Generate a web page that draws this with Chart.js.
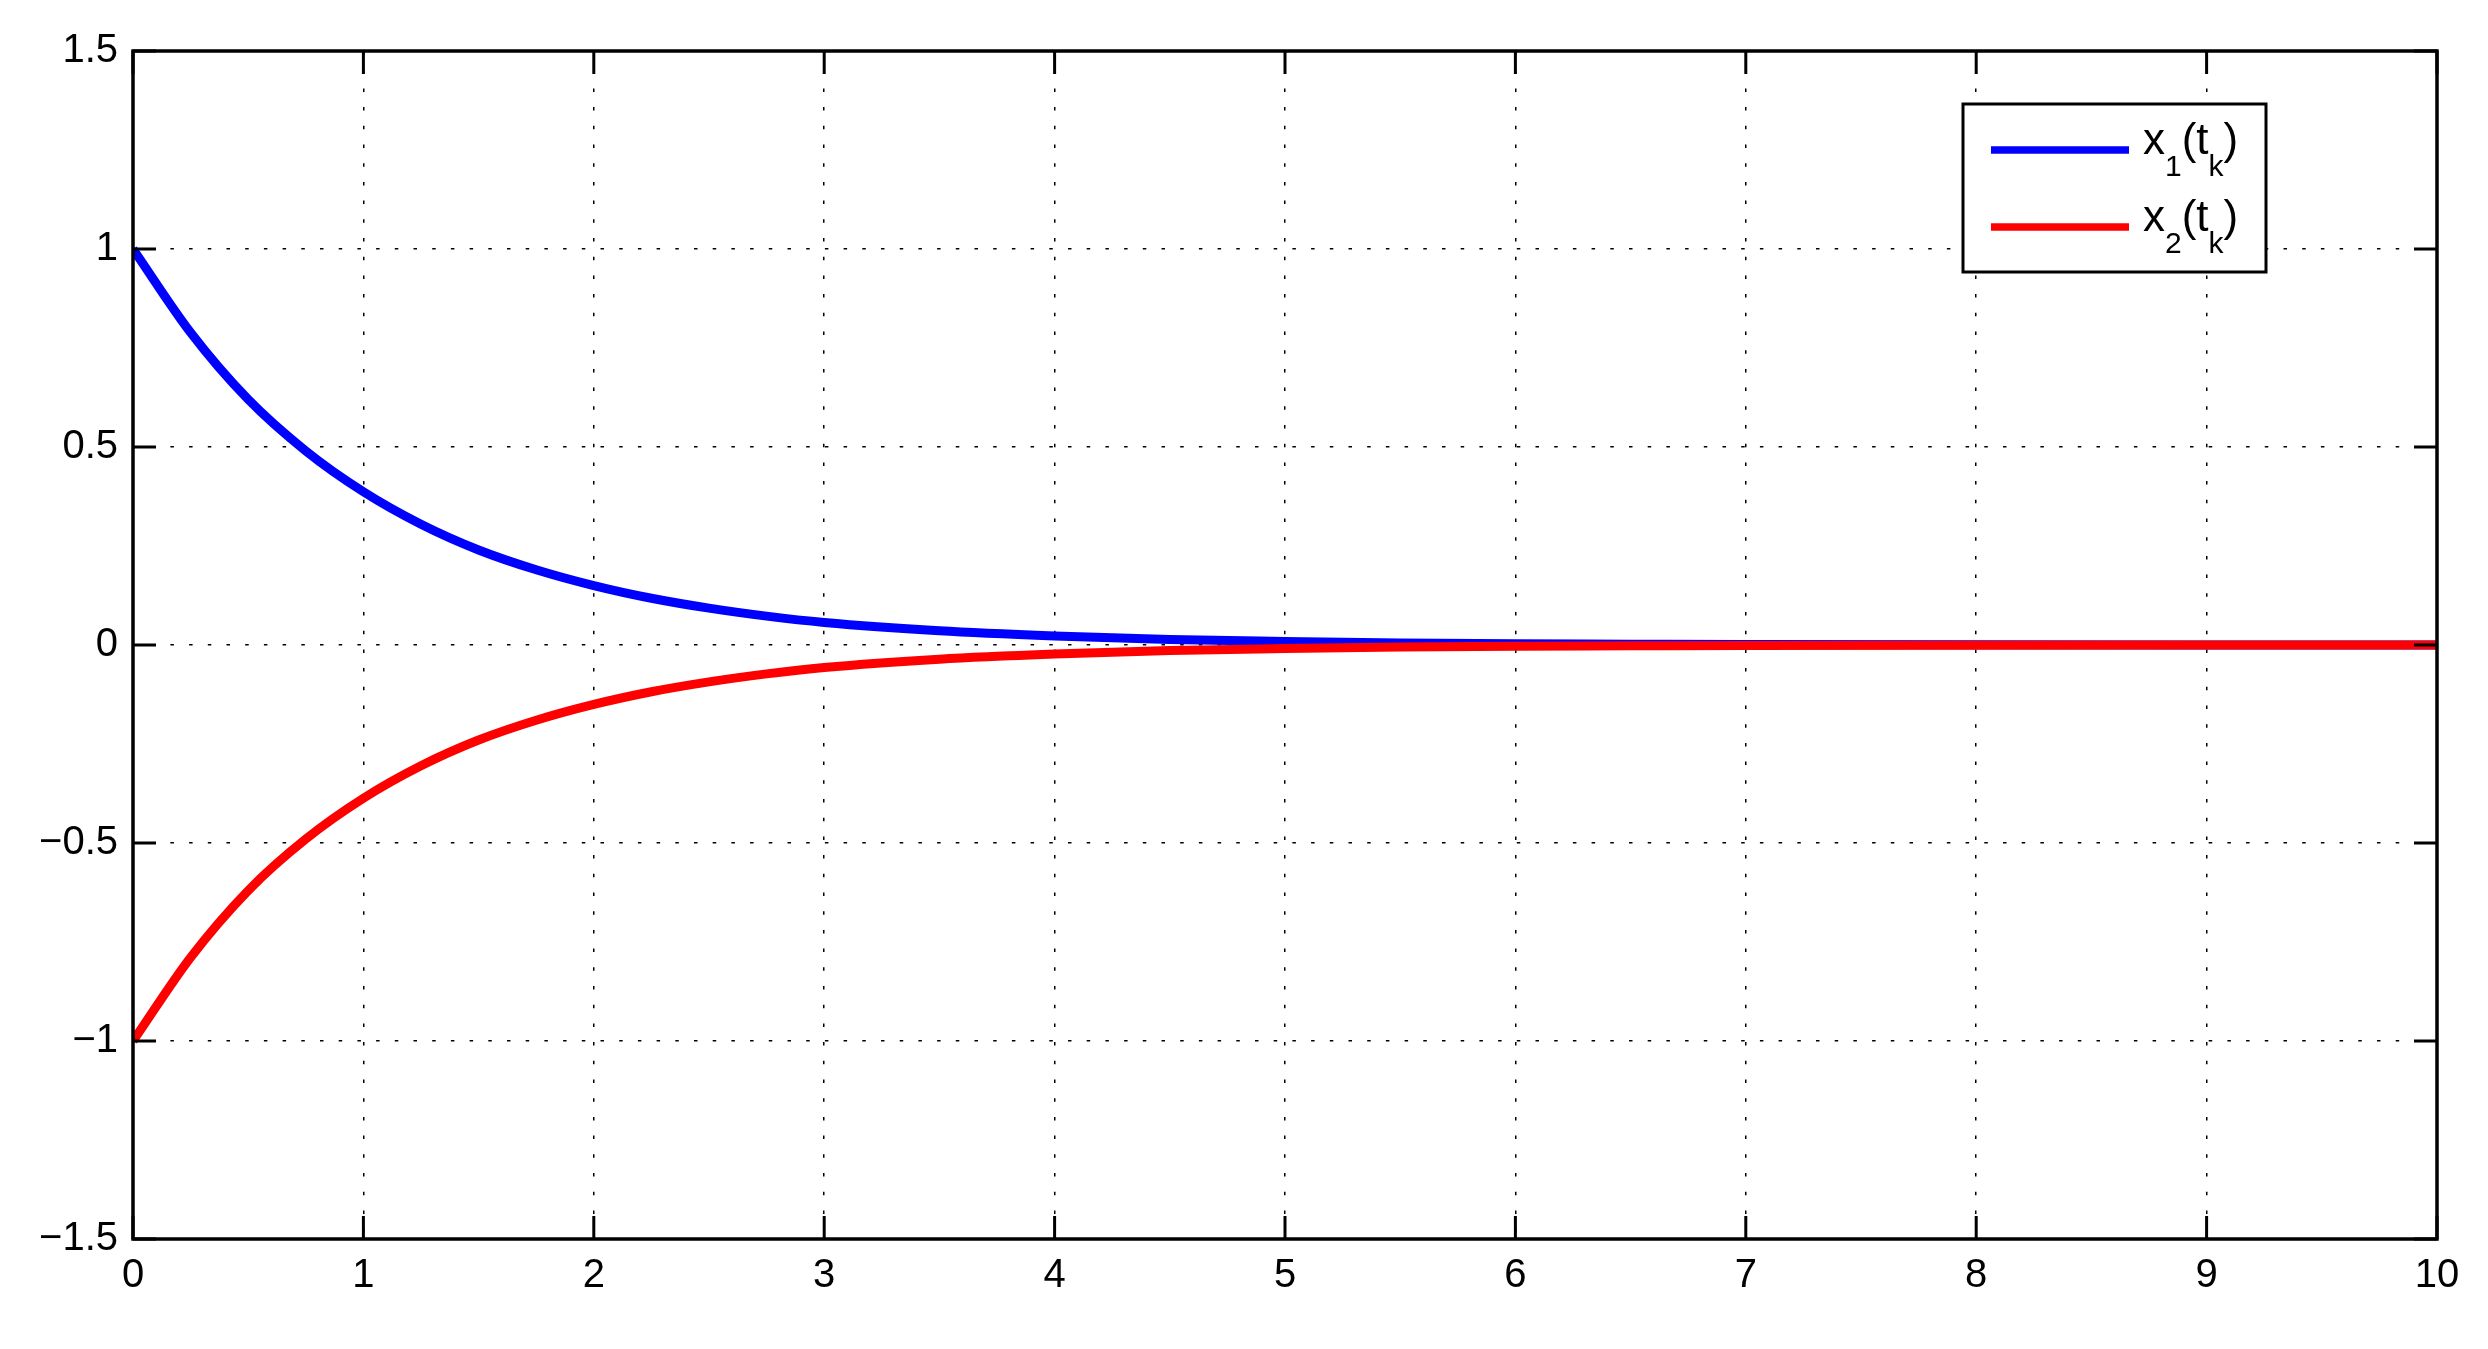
<!DOCTYPE html>
<html>
<head>
<meta charset="utf-8">
<style>
  html, body { margin: 0; padding: 0; background: #ffffff; }
  #wrap { width: 2488px; height: 1349px; }
</style>
<script src="https://cdn.jsdelivr.net/npm/chart.js@4/dist/chart.umd.min.js"></script>
</head>
<body>
<div id="wrap"><canvas id="c" width="2488" height="1349"></canvas></div>
<script>
// ---- data ----
const tValues  = [0, 0.25, 0.5, 0.75, 1, 1.25, 1.5, 1.75, 2, 2.25, 2.5, 2.75, 3, 3.5, 4, 4.5, 5, 5.5, 6, 6.5, 7, 8, 9, 10];
const x1Values = [1.000, 0.789, 0.620, 0.490, 0.387, 0.305, 0.240, 0.190, 0.150, 0.118, 0.093, 0.073, 0.057, 0.036, 0.023, 0.014, 0.009, 0.005, 0.003, 0.002, 0.001, 0.0005, 0.0002, 0.0001];
const x2Values = [-1.000, -0.789, -0.620, -0.490, -0.387, -0.305, -0.240, -0.190, -0.150, -0.118, -0.093, -0.073, -0.057, -0.036, -0.023, -0.014, -0.009, -0.005, -0.003, -0.002, -0.001, -0.0005, -0.0002, -0.0001];
const seriesLabels = ['x_1(t_k)', 'x_2(t_k)'];
const xTickValues = [0, 1, 2, 3, 4, 5, 6, 7, 8, 9, 10];
const xTickLabels = ['0', '1', '2', '3', '4', '5', '6', '7', '8', '9', '10'];
const yTickValues = [-1.5, -1, -0.5, 0, 0.5, 1, 1.5];
const yTickLabels = ['\u22121.5', '\u22121', '\u22120.5', '0', '0.5', '1', '1.5'];

const FONT = '"Liberation Sans", Arial, Helvetica, sans-serif';
const TICK_FONT_SIZE = 40;

function toPoints(xs, ys) { return xs.map((x, i) => ({ x: x, y: ys[i] })); }

// Box + inward tick marks on all four sides (MATLAB style)
const boxPlugin = {
  id: 'boxPlugin',
  afterDatasetsDraw(chart) {
    const ctx = chart.ctx;
    const a = chart.chartArea;
    const xs = chart.scales.x, ys = chart.scales.y;
    const tl = 23;
    ctx.save();
    ctx.strokeStyle = '#000';
    ctx.lineWidth = 3;
    ctx.setLineDash([]);
    ctx.beginPath();
    xTickValues.forEach(v => {
      const px = xs.getPixelForValue(v);
      ctx.moveTo(px, a.bottom); ctx.lineTo(px, a.bottom - tl);
      ctx.moveTo(px, a.top); ctx.lineTo(px, a.top + tl);
    });
    yTickValues.forEach(v => {
      const py = ys.getPixelForValue(v);
      ctx.moveTo(a.left, py); ctx.lineTo(a.left + tl, py);
      ctx.moveTo(a.right, py); ctx.lineTo(a.right - tl, py);
    });
    ctx.stroke();
    ctx.lineWidth = 3.5;
    ctx.strokeRect(a.left, a.top, a.right - a.left, a.bottom - a.top);
    ctx.restore();
  }
};

// Legend with subscripts
function drawRich(ctx, text, x, y, size, subSize, subDrop) {
  let cx = x;
  let i = 0;
  while (i < text.length) {
    const ch = text[i];
    if (ch === '_' && i + 1 < text.length) {
      ctx.font = subSize + 'px ' + FONT;
      ctx.fillText(text[i + 1], cx, y + subDrop);
      cx += ctx.measureText(text[i + 1]).width;
      i += 2;
    } else {
      ctx.font = size + 'px ' + FONT;
      ctx.fillText(ch, cx, y);
      cx += ctx.measureText(ch).width;
      i += 1;
    }
  }
}

const legendPlugin = {
  id: 'matLegend',
  afterDraw(chart) {
    const ctx = chart.ctx;
    const a = chart.chartArea;
    const bx = a.right - 171 - 303, by = a.top + 53, bw = 303, bh = 168;
    ctx.save();
    ctx.fillStyle = '#fff';
    ctx.fillRect(bx, by, bw, bh);
    ctx.strokeStyle = '#000';
    ctx.lineWidth = 3;
    ctx.strokeRect(bx, by, bw, bh);
    chart.data.datasets.forEach((ds, i) => {
      const ly = by + 46 + i * 77;
      ctx.strokeStyle = ds.borderColor;
      ctx.lineWidth = 7.5;
      ctx.beginPath();
      ctx.moveTo(bx + 28, ly);
      ctx.lineTo(bx + 166, ly);
      ctx.stroke();
      ctx.fillStyle = '#000';
      ctx.textBaseline = 'alphabetic';
      ctx.textAlign = 'left';
      drawRich(ctx, ds.label, bx + 180, ly + 4, 44, 30, 22);
    });
    ctx.restore();
  }
};

const gridStyle = { color: '#000', lineWidth: 1.5, drawTicks: false };

new Chart(document.getElementById('c'), {
  type: 'line',
  data: {
    datasets: [
      { label: seriesLabels[0], data: toPoints(tValues, x1Values), borderColor: '#0000ff', borderWidth: 9, pointRadius: 0, cubicInterpolationMode: 'monotone', fill: false, order: 1 },
      { label: seriesLabels[1], data: toPoints(tValues, x2Values), borderColor: '#ff0000', borderWidth: 9, pointRadius: 0, cubicInterpolationMode: 'monotone', fill: false, order: 0 }
    ]
  },
  options: {
    responsive: false,
    animation: false,
    events: [],
    layout: { padding: { left: 0, top: 51, right: 51, bottom: 0 } },
    plugins: { legend: { display: false }, tooltip: { enabled: false } },
    scales: {
      x: {
        type: 'linear', min: 0, max: 10,
        afterBuildTicks: s => { s.ticks = xTickValues.map(v => ({ value: v })); },
        afterFit: s => { s.height = 110; },
        ticks: { autoSkip: false, maxRotation: 0, padding: 13, color: '#000', font: { family: FONT, size: TICK_FONT_SIZE },
                 callback: (v, i) => xTickLabels[i] },
        grid: gridStyle,
        border: { display: false, dash: [3.5, 15.2] }
      },
      y: {
        type: 'linear', min: -1.5, max: 1.5,
        afterBuildTicks: s => { s.ticks = yTickValues.map(v => ({ value: v })); },
        afterFit: s => { s.width = 133; },
        ticks: { autoSkip: false, padding: 15, color: '#000', font: { family: FONT, size: TICK_FONT_SIZE },
                 callback: (v, i) => yTickLabels[i] },
        grid: gridStyle,
        border: { display: false, dash: [3.5, 15.2] }
      }
    }
  },
  plugins: [boxPlugin, legendPlugin]
});
</script>
</body>
</html>
